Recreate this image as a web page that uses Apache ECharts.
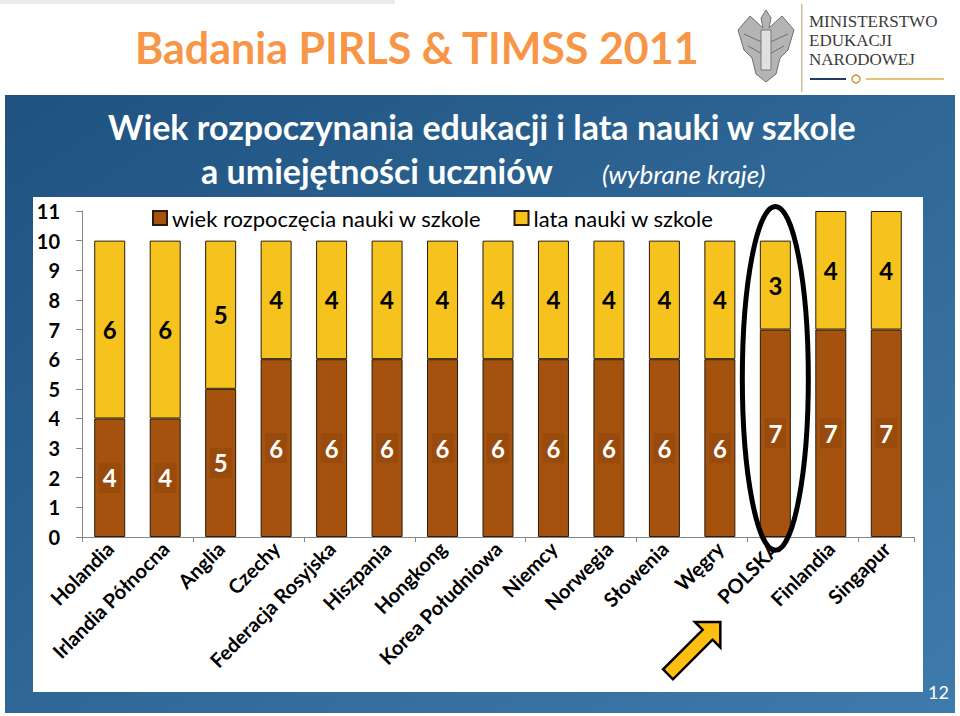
<!DOCTYPE html>
<html>
<head>
<meta charset="utf-8">
<script src="https://cdn.jsdelivr.net/npm/echarts@6/dist/echarts.min.js"></script>
<style>
html, body { margin: 0; padding: 0; background: #fff; }
#main { width: 960px; height: 716px; }
</style>
</head>
<body>
<div id="main"></div>
<script>
// dane
var countries = ['Holandia', 'Irlandia Północna', 'Anglia', 'Czechy', 'Federacja Rosyjska', 'Hiszpania',
  'Hongkong', 'Korea Południowa', 'Niemcy', 'Norwegia', 'Słowenia', 'Węgry', 'POLSKA', 'Finlandia', 'Singapur'];
var startAge = [4, 4, 5, 6, 6, 6, 6, 6, 6, 6, 6, 6, 7, 7, 7];
var schoolYears = [6, 6, 5, 4, 4, 4, 4, 4, 4, 4, 4, 4, 3, 4, 4];
var yMin = 0, yMax = 11;

var font = 'Lato';
var myChart = echarts.init(document.getElementById('main'), null, { renderer: 'svg' });

var bgElements = [
  { id: 'topline', type: 'rect', shape: { x: 0, y: 0, width: 395, height: 4 }, style: { fill: '#ececec' }, z: -20, silent: true },
  {
    id: 'panel', type: 'rect', shape: { x: 5, y: 95, width: 950, height: 618 }, z: -20, silent: true,
    style: {
      fill: new echarts.graphic.LinearGradient(0, 0, 1, 1, [
        { offset: 0, color: '#1f527f' },
        { offset: 0.5, color: '#2f6797' },
        { offset: 1, color: '#3f7aac' }
      ])
    }
  },
  { id: 'plotbg', type: 'rect', shape: { x: 33, y: 197, width: 890, height: 495 }, style: { fill: '#fff' }, z: -19, silent: true },
  // logo
  { id: 'logoline', type: 'rect', shape: { x: 801, y: 4, width: 1.5, height: 88 }, style: { fill: '#cdbf9a' }, z: -10 },
  {
    id: 'logotext', type: 'text', left: 809, top: 12, z: -10,
    style: { text: 'MINISTERSTWO\nEDUKACJI\nNARODOWEJ', fill: '#3a3a3a', font: '17px "Liberation Serif"', lineHeight: 19 }
  },
  { id: 'deco1', type: 'rect', shape: { x: 810, y: 78, width: 36, height: 2 }, style: { fill: '#1f3b63' }, z: -10 },
  { id: 'deco2', type: 'rect', shape: { x: 866, y: 78, width: 78, height: 2 }, style: { fill: '#e3c27a' }, z: -10 },
  { id: 'deco3', type: 'circle', shape: { cx: 856, cy: 79, r: 4 }, style: { fill: 'none', stroke: '#c99a3a', lineWidth: 1.5 }, z: -10 },
  // orzel (uproszczony)
  {
    id: 'eagle', type: 'group', z: -10, children: [
      { type: 'polygon', shape: { points: [[766, 10], [771, 18], [769, 28], [782, 16], [794, 30], [788, 50], [780, 58], [776, 74], [766, 82], [756, 74], [752, 58], [744, 50], [738, 30], [750, 16], [763, 28], [761, 18]] }, style: { fill: '#b4b4b4', stroke: '#6f6f6f', lineWidth: 1 } },
      { type: 'polyline', shape: { points: [[744, 34], [766, 44], [788, 34]] }, style: { stroke: '#6f6f6f', lineWidth: 1, fill: 'none' } },
      { type: 'polyline', shape: { points: [[748, 46], [766, 56], [784, 46]] }, style: { stroke: '#6f6f6f', lineWidth: 1, fill: 'none' } },
      { type: 'rect', shape: { x: 761, y: 30, width: 10, height: 40 }, style: { fill: '#e0e0e0', stroke: '#777', lineWidth: 1 } }
    ]
  },
  {
    id: 'pagenum', type: 'text', left: 928, top: 683, z: 10,
    style: { text: '12', fill: '#fff', font: '18px ' + font }
  }
];

option = {
  backgroundColor: '#fff',
  animation: false,
  textStyle: { fontFamily: font },
  title: [
    { text: 'Badania PIRLS & TIMSS 2011', left: 130, top: 21, textStyle: { color: '#F79646', fontSize: 43, fontWeight: 'bold', fontFamily: font } },
    { text: 'Wiek rozpoczynania edukacji i lata nauki w szkole', left: 103, top: 104, textStyle: { color: '#fff', fontSize: 34, fontWeight: 'bold', fontFamily: font } },
    { text: 'a umiejętności uczniów', left: 196, top: 148, textStyle: { color: '#fff', fontSize: 34, fontWeight: 'bold', fontFamily: font } },
    { text: '(wybrane kraje)', left: 597, top: 156, textStyle: { color: '#fff', fontSize: 26, fontWeight: 'normal', fontStyle: 'italic', fontFamily: font } }
  ],
  legend: {
    left: 147, top: 202,
    itemWidth: 14, itemHeight: 14, itemGap: 32,
    icon: 'rect',
    textStyle: { color: '#000', fontSize: 22, fontFamily: font },
    data: ['wiek rozpoczęcia nauki w szkole', 'lata nauki w szkole']
  },
  grid: { left: 82, right: 46, top: 211, bottom: 179 },
  xAxis: {
    type: 'category',
    data: countries,
    axisLine: { lineStyle: { color: '#868686', width: 1 } },
    axisTick: { show: true, interval: 1, length: 5, lineStyle: { color: '#868686' } },
    axisLabel: { interval: 0, rotate: 45, margin: 8, color: '#000', fontWeight: 'bold', fontSize: 20, fontFamily: font }
  },
  yAxis: {
    type: 'value',
    min: yMin, max: yMax, interval: 1,
    axisLine: { show: true, lineStyle: { color: '#868686', width: 1 } },
    axisTick: { show: true, length: 6, lineStyle: { color: '#868686' } },
    splitLine: { show: false },
    axisLabel: { margin: 22, color: '#000', fontWeight: 'bold', fontSize: 20, fontFamily: font }
  },
  series: [
    {
      name: 'wiek rozpoczęcia nauki w szkole',
      type: 'bar',
      stack: 'razem',
      barWidth: 31,
      data: startAge,
      itemStyle: { color: '#A5520F', borderColor: '#2b1b0a', borderWidth: 1 },
      label: {
        show: true, position: 'inside',
        color: '#fff', fontWeight: 'bold', fontSize: 24, fontFamily: font,
        backgroundColor: '#984b0d', padding: [4, 4, 2, 4]
      }
    },
    {
      name: 'lata nauki w szkole',
      type: 'bar',
      stack: 'razem',
      barWidth: 31,
      data: schoolYears,
      itemStyle: { color: '#F6C31E', borderColor: '#2b1b0a', borderWidth: 1 },
      label: {
        show: true, position: 'inside',
        color: '#000', fontWeight: 'bold', fontSize: 24, fontFamily: font
      }
    }
  ],
  graphic: { elements: bgElements }
};

myChart.setOption(option, true);

// elipsa wokol POLSKI i strzalka - liczone z osi
var px = myChart.convertToPixel({ xAxisIndex: 0 }, 'POLSKA');
var yTop = myChart.convertToPixel({ yAxisIndex: 0 }, 11.15);
var yBot = myChart.convertToPixel({ yAxisIndex: 0 }, -0.45);
var tipX = px - 55, tipY = 622;
var L = 74, hl = 18, hw = 18, sw = 7;
var arrowPts = [[0, 0], [-hl, -hw], [-hl, -sw], [-L, -sw], [-L, sw], [-hl, sw], [-hl, hw]];

myChart.setOption({
  graphic: {
    elements: [
      {
        id: 'ring', type: 'ellipse', z: 100, silent: true,
        shape: { cx: px, cy: (yTop + yBot) / 2, rx: 33, ry: (yBot - yTop) / 2 },
        style: { fill: 'none', stroke: '#000', lineWidth: 5 }
      },
      {
        id: 'arrow', type: 'polygon', z: 100, silent: true,
        x: tipX, y: tipY, rotation: Math.PI / 4,
        shape: { points: arrowPts },
        style: { fill: '#FDBE10', stroke: '#000', lineWidth: 2.5, lineJoin: 'miter' }
      }
    ]
  }
});
</script>
</body>
</html>
